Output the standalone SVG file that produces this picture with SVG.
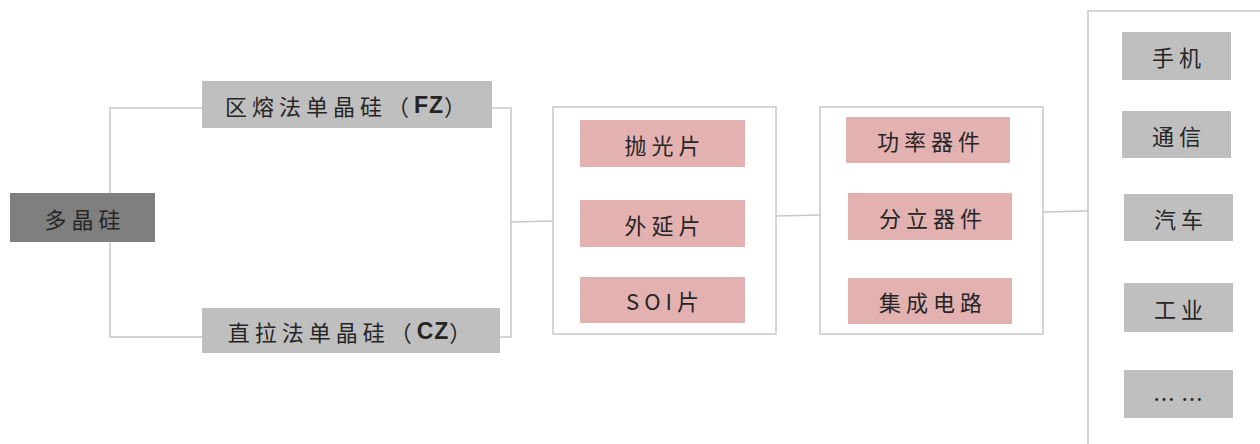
<svg xmlns="http://www.w3.org/2000/svg" width="1260" height="444" viewBox="0 0 1260 444">
<style>
.t{font-family:"Noto Sans CJK SC","Liberation Sans",sans-serif;font-size:22px;fill:#262626;text-anchor:middle;dominant-baseline:central;letter-spacing:5px}
.gray{fill:#bfbfbf}
.pink{fill:#e3b1b0}
.frame{fill:#ffffff;stroke:#c8c8c8;stroke-width:1.5}
.ln{fill:none;stroke:#c8c8c8;stroke-width:1.5}
</style>
<rect width="1260" height="444" fill="#ffffff"/>
<g id="connectors">
<path class="ln" d="M202,108 H110 V337 H202"/>
<path class="ln" d="M492,108 H511 V337 H500"/>
<path class="ln" d="M511,222 L553,221"/>
<path class="ln" d="M776,216 L820,215"/>
<path class="ln" d="M1043,212 L1088,211"/>
</g>
<g id="polysilicon">
<rect x="10" y="193" width="145" height="49" fill="#7f7f7f"/>
<text class="t" x="85" y="218">多晶硅</text>
</g>
<g id="fz">
<rect class="gray" x="202" y="81" width="290" height="47"/>
<text class="t" x="348" y="105">区熔法单晶硅（<tspan font-family="Liberation Sans" font-weight="bold" font-size="23" letter-spacing="1">FZ</tspan>）</text>
</g>
<g id="cz">
<rect class="gray" x="202" y="308" width="298" height="45"/>
<text class="t" x="352" y="331">直拉法单晶硅（<tspan font-family="Liberation Sans" font-weight="bold" font-size="23" letter-spacing="1">CZ</tspan>）</text>
</g>
<g id="wafers">
<rect class="frame" x="553" y="107" width="223" height="227"/>
<rect class="pink" x="580" y="120" width="165" height="47"/>
<text class="t" x="665" y="144">抛光片</text>
<rect class="pink" x="580" y="200" width="165" height="47"/>
<text class="t" x="665" y="224">外延片</text>
<rect class="pink" x="580" y="277" width="165" height="46"/>
<text class="t" x="665" y="300">SOI片</text>
</g>
<g id="devices">
<rect class="frame" x="820" y="107" width="223" height="227"/>
<rect class="pink" x="846" y="117" width="164" height="46"/>
<text class="t" x="931" y="140">功率器件</text>
<rect class="pink" x="848" y="193" width="164" height="47"/>
<text class="t" x="933" y="217">分立器件</text>
<rect class="pink" x="848" y="278" width="164" height="46"/>
<text class="t" x="933" y="301">集成电路</text>
</g>
<g id="applications">
<path class="ln" d="M1088,460 V11 H1270"/>
<rect class="gray" x="1122" y="32" width="109" height="48"/>
<text class="t" x="1179" y="56">手机</text>
<rect class="gray" x="1122" y="111" width="109" height="47"/>
<text class="t" x="1179" y="135">通信</text>
<rect class="gray" x="1124" y="194" width="109" height="47"/>
<text class="t" x="1181" y="218">汽车</text>
<rect class="gray" x="1124" y="283" width="109" height="49"/>
<text class="t" x="1181" y="308">工业</text>
<rect class="gray" x="1124" y="370" width="109" height="48"/>
<text class="t" x="1181" y="397" style="letter-spacing:6px">……</text>
</g>
</svg>
